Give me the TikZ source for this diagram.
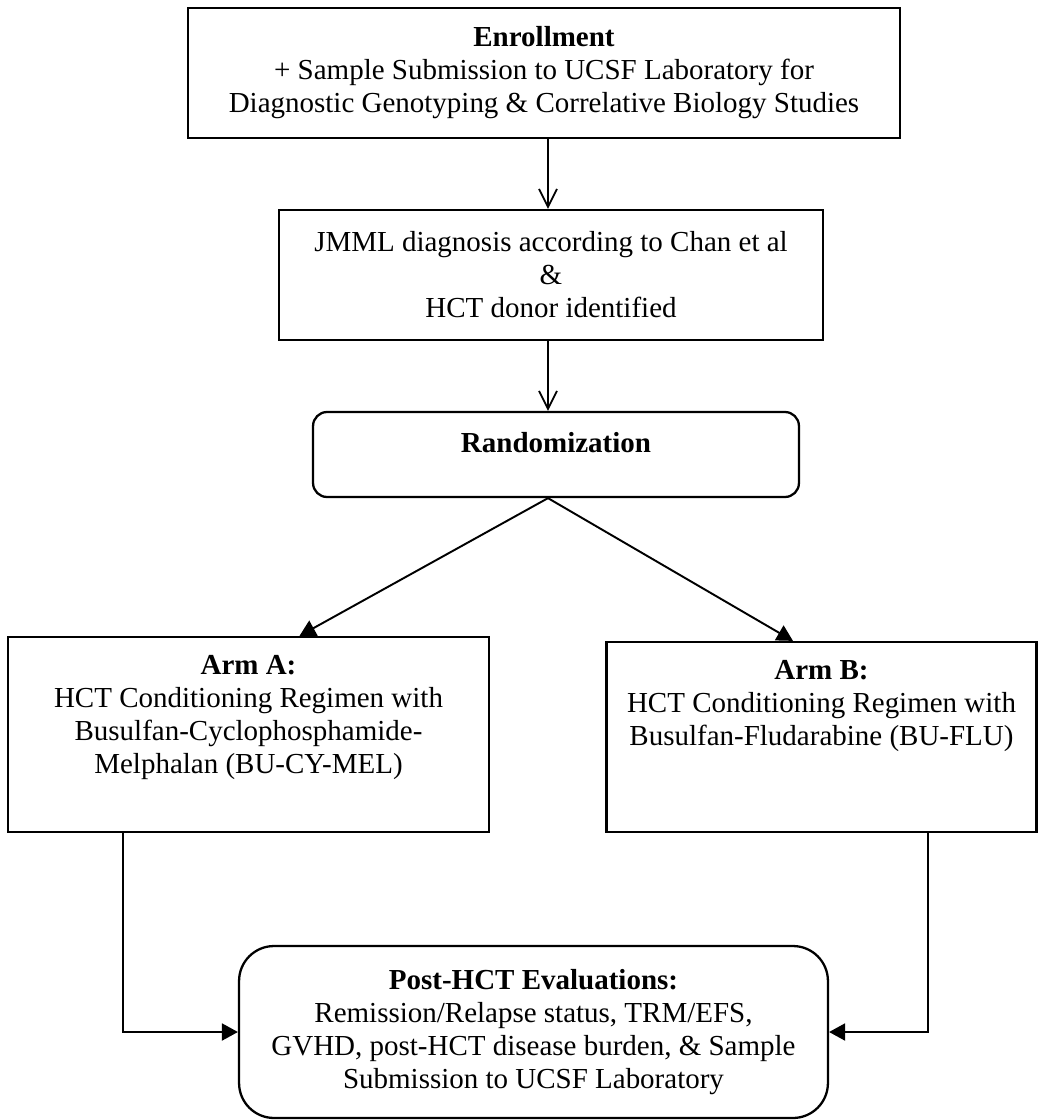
\documentclass[tikz,border=0pt]{standalone}
\usepackage{fontspec}
\setmainfont{Liberation Serif}
\usetikzlibrary{arrows.meta,positioning,calc}

\tikzset{
  box/.style={draw, line width=1.3pt, inner sep=0pt},
  rbox/.style={box, rounded corners=0.28cm},
  txt/.style={align=center, inner sep=0pt, font=\fontsize{16.5}{18.8}\selectfont},
  openarr/.style={line width=1pt, -{Straight Barb[length=0.36cm,width=0.36cm,line width=1pt]}},
  filarr/.style={line width=1.1pt, -{Triangle[length=0.32cm,width=0.34cm]}}
}

\begin{document}
\begin{tikzpicture}[x=0.02cm,y=-0.02cm]
\useasboundingbox (0,0) rectangle (1039,1120);

\node [box, txt, minimum width=14.24cm, minimum height=2.6cm] (enroll) at (544,73)
  {\textbf{Enrollment}\\ + Sample Submission to UCSF Laboratory for\\ Diagnostic Genotyping \& Correlative Biology Studies};
\node [box, txt, minimum width=10.88cm, minimum height=2.6cm] (jmml) at (551,275)
  {JMML diagnosis according to Chan et al\\ \&\\ HCT donor identified};
\node [rbox, txt, minimum width=9.72cm, minimum height=1.7cm, text depth=0.5cm] (rand) at (556,454.5)
  {\textbf{Randomization}};
\coordinate (axis) at ([xshift=0.08cm]enroll.south);

\node [box, minimum width=9.62cm, minimum height=3.9cm] (armA) at (248.5,734.5) {};
\node [txt, anchor=north] (armAtxt) at ([yshift=-0.38cm]armA.north)
  {\textbf{Arm A:}\\ HCT Conditioning Regimen with\\ Busulfan-Cyclophosphamide-\\ Melphalan (BU-CY-MEL)};
\node [box, minimum width=8.6cm, minimum height=3.8cm] (armB) at (821.5,737) {};
\node [txt, anchor=north] (armBtxt) at ([yshift=-0.38cm]armB.north)
  {\textbf{Arm B:}\\ HCT Conditioning Regimen with\\ Busulfan-Fludarabine (BU-FLU)};

\node [box, txt, rounded corners=0.7cm, minimum width=11.78cm, minimum height=3.44cm] (post) at (533.5,1032)
  {\textbf{Post-HCT Evaluations:}\\ Remission/Relapse status, TRM/EFS,\\ GVHD, post-HCT disease burden, \& Sample\\ Submission to UCSF Laboratory};

\draw [openarr] (axis) -- (axis |- jmml.north);
\draw [openarr] (axis |- jmml.south) -- (axis |- rand.north);
\draw [filarr] (axis |- rand.south) -- ([xshift=1.02cm]armA.north);
\draw [filarr] (axis |- rand.south) -- ([xshift=-0.57cm]armB.north);
\draw [filarr] ([xshift=2.32cm]armA.south west) |- (post.west);
\draw [filarr] ([xshift=2.13cm]armB.south) |- (post.east);
\end{tikzpicture}
\end{document}
